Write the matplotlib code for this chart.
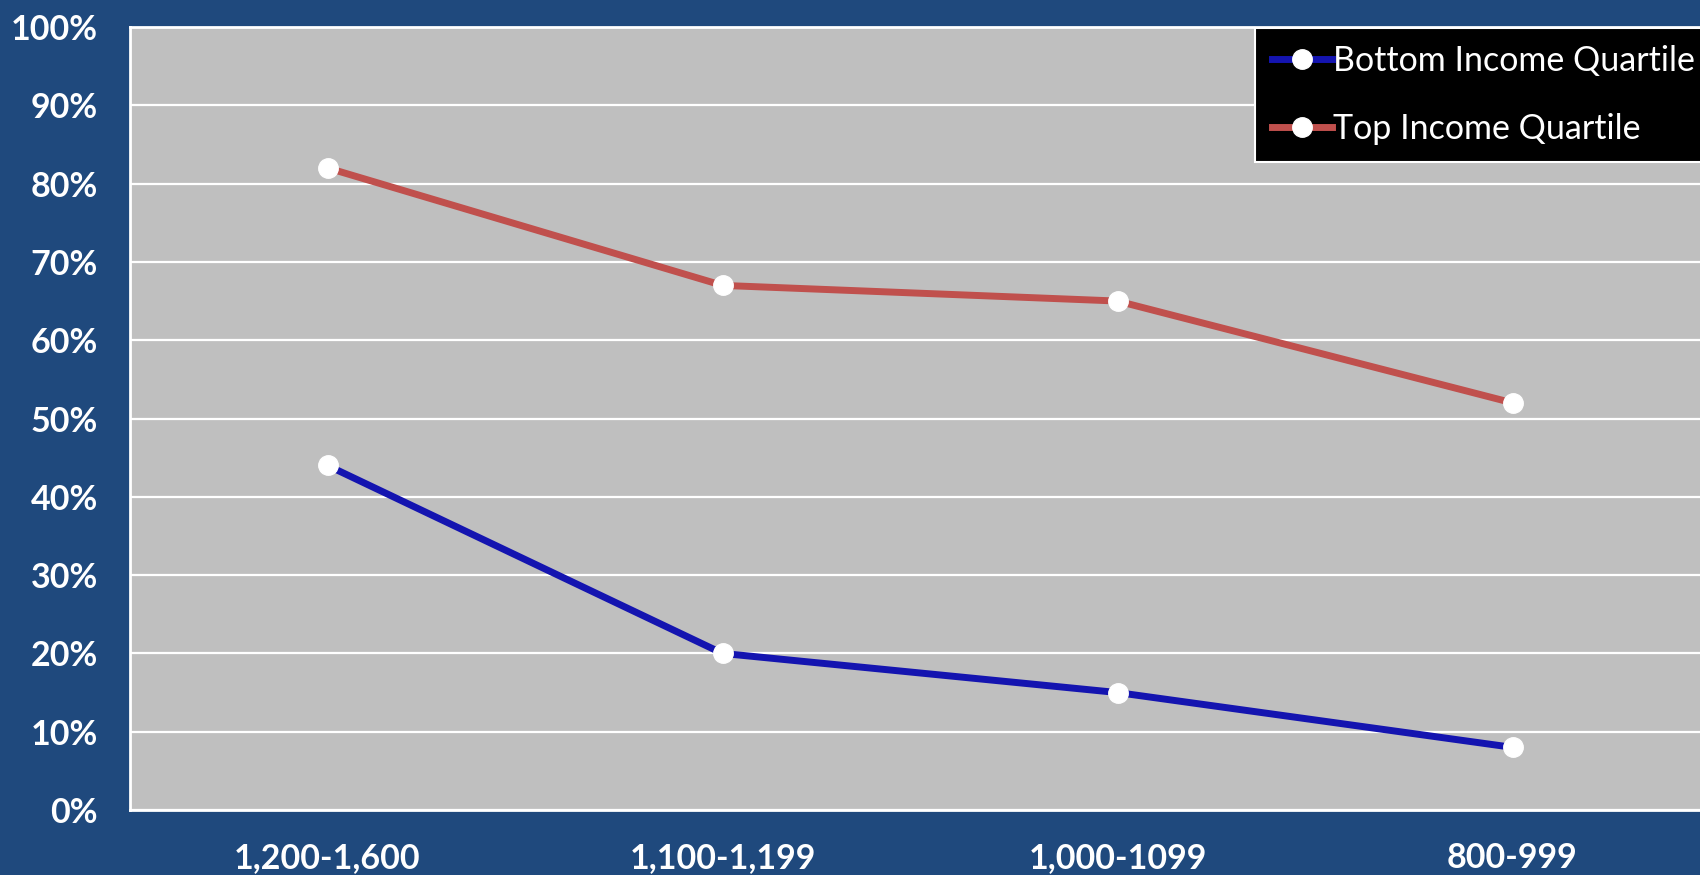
import matplotlib.pyplot as plt

# data
categories = ["1,200-1,600", "1,100-1,199", "1,000-1099", "800-999"]
bottom_quartile = [44, 20, 15, 8]
top_quartile = [82, 67, 65, 52]
y_ticks = list(range(0, 101, 10))

bg = "#1F497D"
plt.rcParams['font.family'] = ['Lato', 'DejaVu Sans']

fig = plt.figure(figsize=(17, 8.75), dpi=100, facecolor=bg)
ax = fig.add_axes([130 / 1700, 1 - 810 / 875, 1580 / 1700, 783 / 875])
ax.set_facecolor("#BFBFBF")

x = range(len(categories))
ax.plot(x, bottom_quartile, color="#1414B0", lw=5, marker="o", ms=14,
        mfc="white", mec="white", label="Bottom Income Quartile", zorder=3)
ax.plot(x, top_quartile, color="#C0504D", lw=5, marker="o", ms=14,
        mfc="white", mec="white", label="Top Income Quartile", zorder=3)

ax.set_xlim(-0.5, 3.5)
ax.set_ylim(0, 100)
ax.set_yticks(y_ticks)
ax.set_yticklabels([f"{v}%" for v in y_ticks])
ax.set_xticks(list(x))
ax.set_xticklabels(categories)
ax.grid(axis="y", color="white", lw=1.6)
ax.set_axisbelow(True)

for side in ["left", "top", "bottom"]:
    ax.spines[side].set_color("white")
    ax.spines[side].set_linewidth(2)
ax.spines["right"].set_visible(False)

ax.tick_params(length=0, colors="white", labelsize=24.5)
ax.tick_params(axis="y", pad=23)
ax.tick_params(axis="x", pad=23)
for lbl in ax.get_xticklabels() + ax.get_yticklabels():
    lbl.set_fontweight("bold")

leg = ax.legend(loc="upper left", bbox_to_anchor=(1255 / 1700, 1 - 28 / 875),
                bbox_transform=fig.transFigure, fontsize=24.5, frameon=True,
                fancybox=False, handlelength=1.75, handletextpad=0.05,
                labelspacing=1.05, borderpad=0.5, borderaxespad=0)
leg.get_frame().set_facecolor("black")
leg.get_frame().set_edgecolor("white")
leg.get_frame().set_linewidth(1.5)
leg.get_frame().set_alpha(1)
for t in leg.get_texts():
    t.set_color("white")

fig.savefig("out.png", dpi=100, facecolor=bg)
